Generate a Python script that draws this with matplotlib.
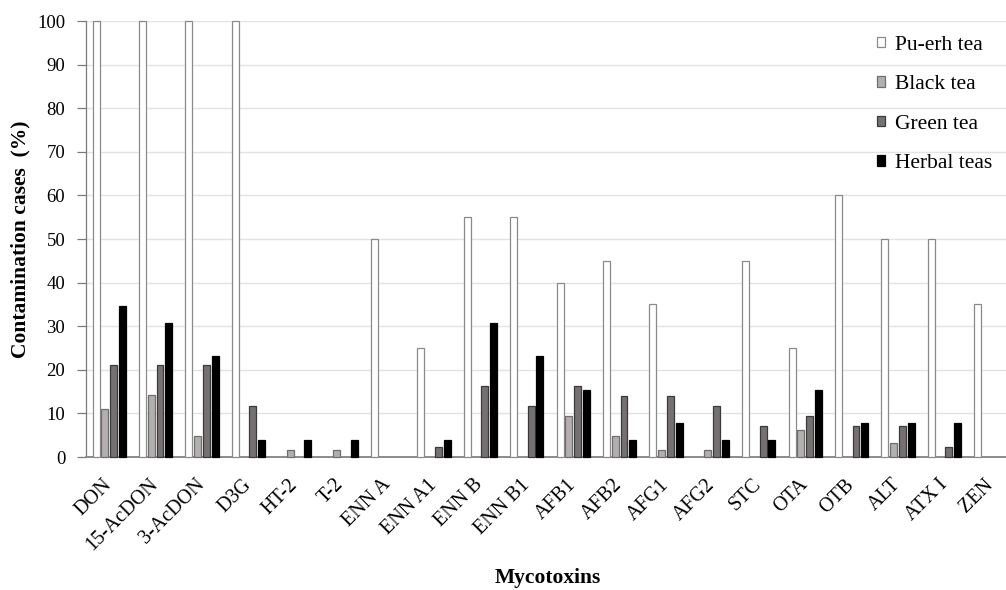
import matplotlib
matplotlib.use("Agg")
import matplotlib.pyplot as plt
import numpy as np

categories = ["DON", "15-AcDON", "3-AcDON", "D3G", "HT-2", "T-2", "ENN A", "ENN A1",
              "ENN B", "ENN B1", "AFB1", "AFB2", "AFG1", "AFG2", "STC", "OTA", "OTB",
              "ALT", "ATX I", "ZEN"]
pu_erh = [100, 100, 100, 100, 0, 0, 50, 25, 55, 55, 40, 45, 35, 0, 45, 25, 60, 50, 50, 35]
black_tea = [11.1, 14.3, 4.8, 0, 1.6, 1.6, 0, 0, 0, 0, 9.5, 4.8, 1.6, 1.6, 0, 6.3, 0, 3.2, 0, 0]
green_tea = [21, 21, 21, 11.7, 0, 0, 0, 2.3, 16.3, 11.7, 16.3, 14, 14, 11.7, 7, 9.3, 7, 7, 2.3, 0]
herbal_teas = [34.6, 30.8, 23.1, 3.8, 3.8, 3.8, 0, 3.8, 30.8, 23.1, 15.4, 3.8, 7.7, 3.8, 3.8, 15.4, 7.7, 7.7, 7.7, 0]
series_names = ["Pu-erh tea", "Black tea", "Green tea", "Herbal teas"]
yticks = list(range(0, 101, 10))

plt.rcParams['font.family'] = ['Liberation Serif', 'DejaVu Serif']

fig = plt.figure(figsize=(10.06, 5.90), dpi=100)
W, H = 1006, 590
left, right, bottom, top = 86, 1006, 457, 21
ax = fig.add_axes([left / W, 1 - bottom / H, (right - left) / W, (bottom - top) / H])

x = np.arange(len(categories))
offsets = [-0.284, -0.096, 0.095, 0.283]
width = 0.15
fills = ["#ffffff", "#b3afae", "#767171", "#000000"]
edges = ["#8a8a8a", "#6f6f6f", "#3a3a3a", "#000000"]
data = [pu_erh, black_tea, green_tea, herbal_teas]
for vals, off, fc, ec, name in zip(data, offsets, fills, edges, series_names):
    v = np.array(vals, dtype=float)
    v = np.where(v > 0, v, np.nan)
    ax.bar(x + off, v, width=width, color=fc, edgecolor=ec, linewidth=0.9,
           label=name, zorder=3, clip_on=False)

ax.set_xlim(-0.5, -0.5 + (right - left) / 46.4)
ax.set_ylim(0, 100)
ax.set_yticks(yticks)
ax.set_yticklabels([str(v) for v in yticks], fontsize=13.5)
ax.yaxis.grid(True, color="#e3e3e3", linewidth=1.0, zorder=0)
ax.set_axisbelow(True)
for s in ["top", "right"]:
    ax.spines[s].set_visible(False)
ax.spines["left"].set_color("#7a7a7a")
ax.spines["left"].set_linewidth(0.9)
ax.spines["bottom"].set_color("#8c8c8c")
ax.spines["bottom"].set_linewidth(1.4)
ax.tick_params(axis="y", length=6.5, width=0.9, color="#7a7a7a", pad=8.5)

ax.set_xticks(x)
ax.set_xticklabels(categories, rotation=45, ha="right", va="center",
                   rotation_mode="anchor", fontsize=14.5)
ax.tick_params(axis="x", length=0, pad=18)

ax.set_ylabel("Contamination cases  (%)", fontsize=15.5, fontweight="bold", labelpad=5)
fig.text(548 / W, 1 - 578 / H, "Mycotoxins", fontsize=15.5, fontweight="bold",
         ha="center", va="center")

leg = ax.legend(loc="upper left", bbox_to_anchor=(866 / W, 1 - 25 / H),
                bbox_transform=fig.transFigure, frameon=False, fontsize=15.5,
                handlelength=0.36, handleheight=0.36, handletextpad=0.5,
                labelspacing=0.95, borderpad=0)

fig.savefig("out.png", dpi=100)
